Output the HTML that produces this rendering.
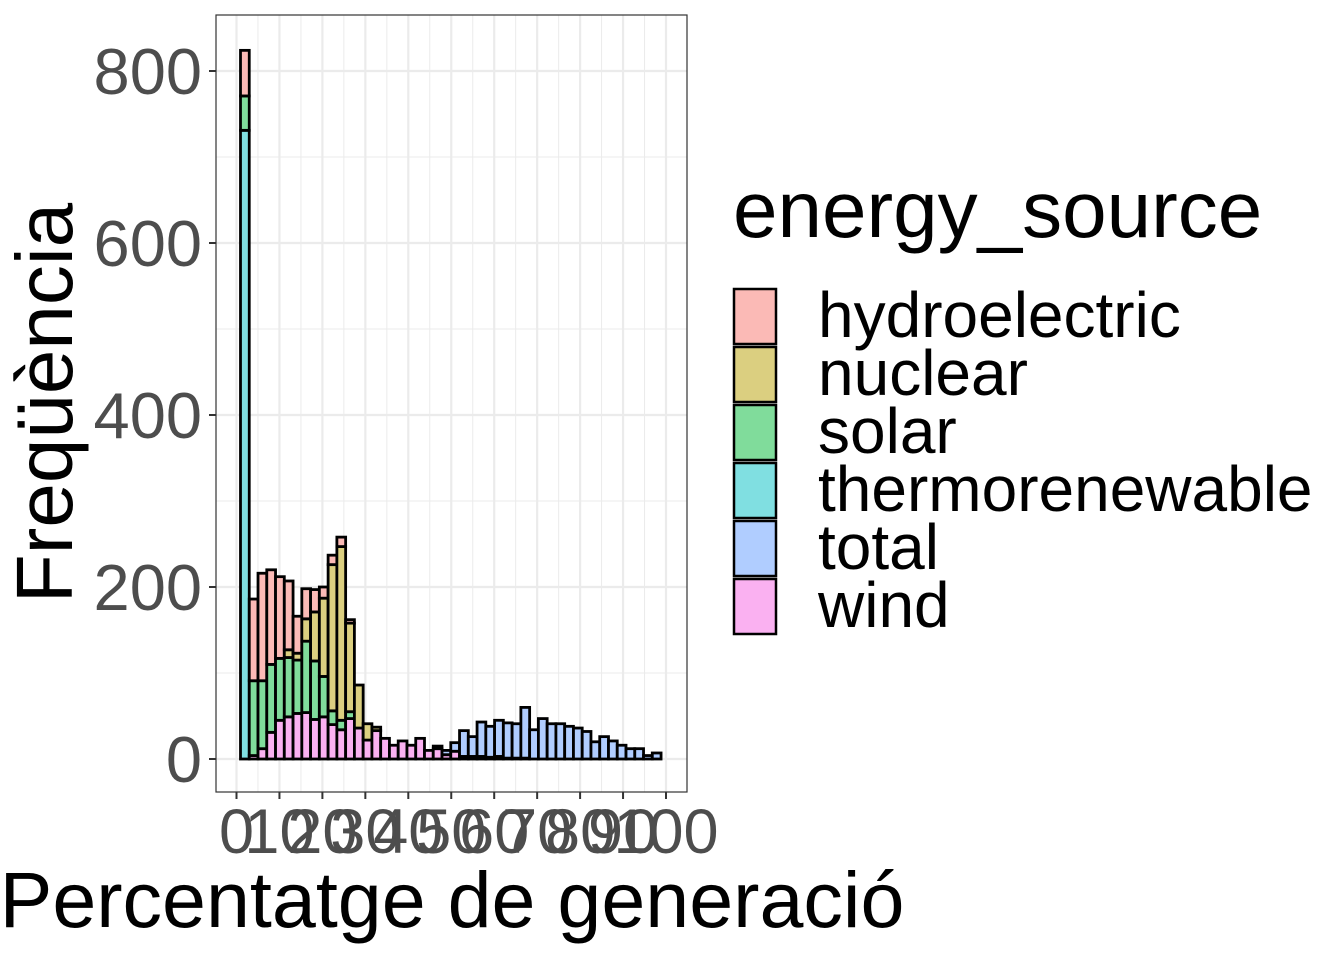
<!DOCTYPE html>
<html><head><meta charset="utf-8"><style>
body{margin:0;background:#fff;}
svg{display:block;font-family:"Liberation Sans",sans-serif;}
</style></head><body>
<svg id="chart" width="1344" height="960" xmlns="http://www.w3.org/2000/svg">
<rect x="216" y="15" width="471" height="777" fill="#fff"/>
<g id="grid"></g>
<g id="bars"></g>
<rect x="216" y="15" width="471" height="777" fill="none" stroke="#333" stroke-width="1.2"/>
<g id="axes"></g>
<text x="452" y="927" font-size="79" text-anchor="middle" fill="#000">Percentatge de generació</text>
<text transform="translate(72,403) rotate(-90)" font-size="80" text-anchor="middle" fill="#000">Freqüència</text>
<g id="legend">
<text x="733" y="237" font-size="80" fill="#000">energy_source</text>
</g>
</svg>
<script>
const series = ["hydroelectric","nuclear","solar","thermorenewable","total","wind"];
const colors = ["#FBBAB6","#DBCF80","#80DC9B","#80DFE1","#B0CDFF","#FAB1F1"];
const binStart = 0.93, binWidth = 2.04;
const wind =   [0,4,12,31,45,49,53,54,46,49,40,34,47,36,22,33,24,16,21,16,24,10,12,5,9,3,3,3,2,3,1,1,1,0,0,0,0,0,0,0,0,0,0,0,0,0,0,0];
const total =  [0,0,0,0,0,0,0,0,0,0,0,0,0,0,0,0,0,0,0,0,0,0,3,5,10,30,23,40,36,42,41,40,59,34,47,41,41,38,36,32,20,26,21,16,12,12,4,7];
const thermo = [731,0,0,0,0,0,0,0,0,0,0,0,0,0,0,0,0,0,0,0,0,0,0,0,0,0,0,0,0,0,0,0,0,0,0,0,0,0,0,0,0,0,0,0,0,0,0,0];
const solar =  [40,87,79,79,72,69,62,83,68,47,16,11,8,0,0,0,0,0,0,0,0,0,0,0,0,0,0,0,0,0,0,0,0,0,0,0,0,0,0,0,0,0,0,0,0,0,0,0];
const nuclear =[0,0,0,0,0,9,8,26,57,91,170,202,103,50,19,4,0,0,0,0,0,0,0,0,0,0,0,0,0,0,0,0,0,0,0,0,0,0,0,0,0,0,0,0,0,0,0,0];
const hydro =  [53,95,125,110,95,80,43,35,26,13,11,11,4,0,0,0,0,0,0,0,0,0,0,0,0,0,0,0,0,0,0,0,0,0,0,0,0,0,0,0,0,0,0,0,0,0,0,0];
const yTicks = [0,200,400,600,800];
const xTicks = [0,10,20,30,40,50,60,70,80,90,100];
const NS="http://www.w3.org/2000/svg";
function X(v){return 236.5+v*4.295;}
function Y(v){return 759-v*0.86;}
function mk(tag,attrs,parent){const e=document.createElementNS(NS,tag);for(const k in attrs)e.setAttribute(k,attrs[k]);parent.appendChild(e);return e;}
const grid=document.getElementById('grid'),bars=document.getElementById('bars'),axes=document.getElementById('axes');
for(let v=100;v<=850;v+=200){const y=Y(v);if(y<15||y>792)continue;
 const l=mk('line',{x1:216,x2:687,y1:y,y2:y,stroke:'#ebebeb','stroke-width':1},grid);
 }
for(let v=5;v<=105;v+=10){const x=X(v);if(x>687)continue;
 const l=mk('line',{x1:x,x2:x,y1:15,y2:792,stroke:'#ebebeb','stroke-width':1},grid);
 }
yTicks.forEach(v=>{const y=Y(v);
 const l=mk('line',{x1:216,x2:687,y1:y,y2:y,stroke:'#ebebeb','stroke-width':2.2},grid);
 
 const t=mk('line',{x1:209,x2:216,y1:y,y2:y,stroke:'#333','stroke-width':2},axes);
 
 const tx=mk('text',{x:202,y:y+23,'font-size':65,'text-anchor':'end',fill:'#4d4d4d'},axes);tx.textContent=v;
 });
xTicks.forEach(v=>{const x=X(v);
 const l=mk('line',{x1:x,x2:x,y1:15,y2:792,stroke:'#ebebeb','stroke-width':2.2},grid);
 
 const t=mk('line',{x1:x,x2:x,y1:792,y2:799,stroke:'#333','stroke-width':2},axes);
 
 const tx=mk('text',{x:x,y:853,'font-size':63,'text-anchor':'middle',fill:'#4d4d4d'},axes);tx.textContent=v;
 });
const stackOrder=[[wind,5],[total,4],[thermo,3],[solar,2],[nuclear,1],[hydro,0]];
for(let i=0;i<wind.length;i++){
 let cum=0;const x0=X(binStart+i*binWidth),x1=X(binStart+(i+1)*binWidth);
 stackOrder.forEach(([arr,ci])=>{const v=arr[i];if(v<=0)return;
  const r=mk('rect',{x:x0,y:Y(cum+v),width:x1-x0,height:v*0.86,fill:colors[ci],stroke:'#000','stroke-width':2.8},bars);
  
  
  cum+=v;});
}
const lg=document.getElementById('legend');
series.forEach((s,i)=>{const y=288+i*58;
 const r=mk('rect',{x:734,y:y+1,width:42,height:55,fill:colors[i],stroke:'#000','stroke-width':2.5},lg);
 
 const t=mk('text',{x:818,y:y+49,'font-size':64,fill:'#000'},lg);t.textContent=s;
 });
</script>
</body></html>
